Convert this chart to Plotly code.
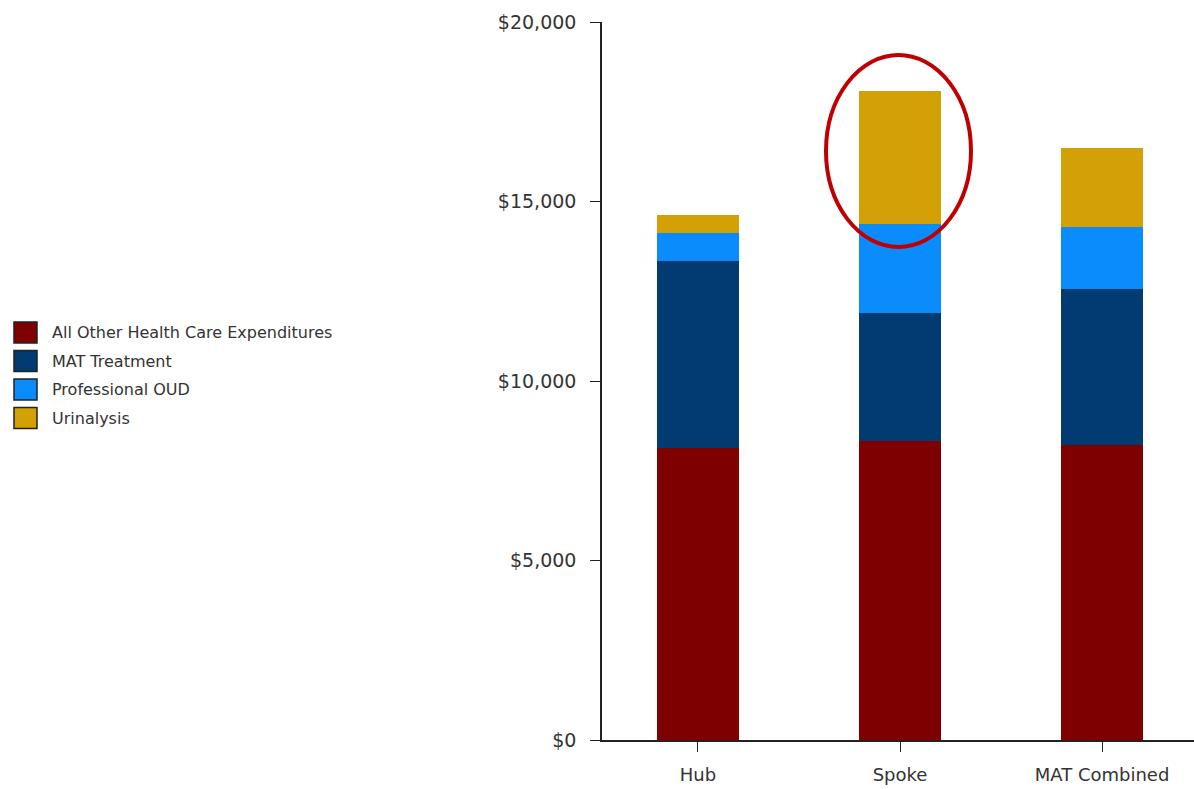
import plotly.graph_objects as go

# Per-member annual expenditures by treatment setting
categories = ["Hub", "Spoke", "MAT Combined"]
series_names = ["All Other Health Care Expenditures", "MAT Treatment", "Professional OUD", "Urinalysis"]
all_other = [8130, 8330, 8220]
mat_treatment = [5210, 3560, 4340]
professional_oud = [780, 2480, 1730]
urinalysis = [500, 3700, 2200]
y_ticks = [0, 5000, 10000, 15000, 20000]
y_tick_labels = ["$0", "$5,000", "$10,000", "$15,000", "$20,000"]

colors = ["#7f0000", "#023a72", "#0b8cfd", "#d3a106"]
series_values = [all_other, mat_treatment, professional_oud, urinalysis]

font_family = "DejaVu Sans, Verdana, sans-serif"

# Plot-area geometry in pixels (used to place the legend and highlight)
PL, PW, PT, PH = 602, 592, 22, 718


def px_x(p):
    return (p - PL) / PW


def px_y(p):
    return 1 - (p - PT) / PH


fig = go.Figure()
for name, vals, col in zip(series_names, series_values, colors):
    fig.add_trace(go.Bar(
        x=categories, y=vals, name=name,
        marker=dict(color=col, line=dict(width=0)),
        showlegend=False,
    ))

# Hand-drawn legend on the left side of the page
legend_top = 321
row_h = 28.5
shapes = []
annotations = []
for i, (name, col) in enumerate(zip(series_names, colors)):
    y0 = legend_top + i * row_h
    shapes.append(dict(
        type="rect", xref="paper", yref="paper",
        x0=px_x(14), x1=px_x(37),
        y0=px_y(y0 + 1), y1=px_y(y0 + 22),
        fillcolor=col, line=dict(color="#222222", width=1.5),
    ))
    annotations.append(dict(
        xref="paper", yref="paper",
        x=px_x(50), y=px_y(y0 + 11.5),
        xanchor="left", yanchor="middle", text=name, showarrow=False,
        font=dict(family=font_family, size=16, color="#333333"),
    ))

# Red ellipse around the Spoke urinalysis segment
shapes.append(dict(
    type="circle", xref="paper", yref="paper",
    x0=px_x(826), x1=px_x(971),
    y0=px_y(247), y1=px_y(55),
    line=dict(color="#c00000", width=4), fillcolor="rgba(0,0,0,0)",
))

fig.update_layout(
    barmode="stack",
    bargap=0.595,
    width=1194, height=789,
    margin=dict(l=PL, r=0, t=PT, b=49),
    plot_bgcolor="white", paper_bgcolor="white",
    font=dict(family=font_family, size=18, color="#333333"),
    shapes=shapes,
    annotations=annotations,
    xaxis=dict(
        range=[-0.475, 2.455],
        showline=True, linecolor="#222222", linewidth=1.5,
        ticks="outside", ticklen=10, tickcolor="#222222",
        showgrid=False, zeroline=False,
        ticklabelstandoff=8,
        tickfont=dict(size=18, color="#333333"),
    ),
    yaxis=dict(
        range=[0, 20000],
        tickvals=y_ticks, ticktext=y_tick_labels,
        showline=True, linecolor="#222222", linewidth=1.5,
        ticks="outside", ticklen=10, tickcolor="#222222",
        showgrid=False, zeroline=False,
        ticklabelstandoff=10,
        tickfont=dict(size=19, color="#333333"),
    ),
)

fig.write_html("out.html")
